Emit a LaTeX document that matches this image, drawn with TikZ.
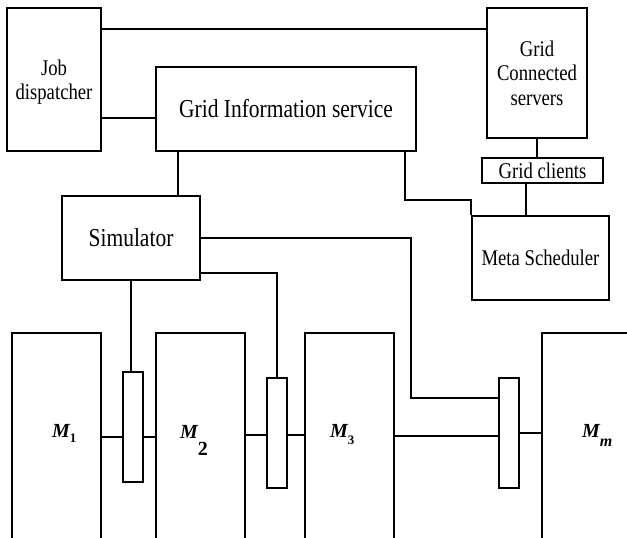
\documentclass[tikz,border=0pt]{standalone}
\usepackage{fontspec}
\setmainfont{Liberation Serif}
\newcommand\vs[1]{\raisebox{-3pt}[\height][\depth]{\scalebox{1}[1.2]{\begin{tabular}{@{}c@{}}#1\end{tabular}}}}
\begin{document}
\begin{tikzpicture}[x=1pt,y=-1pt,
  box/.style={draw, line width=1.7pt, inner sep=0pt, align=center,
    font=\fontsize{18.7}{20.5}\selectfont},
  bigbox/.style={box, font=\fontsize{21.5}{23}\selectfont},
  mach/.style={draw, line width=1.4pt, inner sep=0pt},
  conn/.style={draw, line width=1.5pt, inner sep=0pt, minimum width=20, minimum height=110},
  wire/.style={line width=1.7pt},
  lwire/.style={line width=1.4pt},
  lab/.style={inner sep=0pt, anchor=base west, font=\fontsize{20}{20}\selectfont\bfseries\itshape}]
\useasboundingbox (0,0) rectangle (627,538);
\clip (0,0) rectangle (627,538);
\fill[white] (0,0) rectangle (627,538);
% upper boxes
\node[box, minimum width=94, minimum height=143] (job) at (54,79.5) {\vs{Job\\dispatcher}};
\node[bigbox, minimum width=260, minimum height=84] (gis) at (286,109) {\vs{Grid Information service}};
\node[box, minimum width=100, minimum height=130] (gcs) at (537,73) {\vs{Grid\\Connected\\servers}};
\node[box, minimum width=121, minimum height=25] (gcl) at (542.5,170.5) {\scalebox{1}[1.2]{Grid clients}};
\node[box, minimum width=137, minimum height=84] (meta) at (540.5,258) {\vs{Meta Scheduler}};
\node[bigbox, minimum width=138, minimum height=84] (sim) at (131,238) {\vs{Simulator}};
% machines
\node[mach, minimum width=89, minimum height=227] (m1) at (56.5,446.5) {};
\node[mach, minimum width=89, minimum height=227] (m2) at (200.5,446.5) {};
\node[mach, minimum width=89, minimum height=227] (m3) at (349.5,446.5) {};
\node[mach, minimum width=108, minimum height=227] (mm) at (596,446.5) {};
\node[conn] (k1) at (133,427) {};
\node[conn] (k2) at (277,433) {};
\node[conn] (k3) at (509,433) {};
% labels
\node[lab] (l1) at (52,437) {M\raisebox{-5pt}{\fontsize{13}{13}\selectfont\upshape 1}};
\node[lab] (l2) at (180,438) {M\raisebox{-17pt}{\fontsize{20}{20}\selectfont\upshape 2}};
\node[lab] (l3) at (330,437) {M\raisebox{-7pt}{\fontsize{13}{13}\selectfont\upshape 3}};
\node[lab] (l4) at (582,437) {M\raisebox{-9pt}{\fontsize{16}{16}\selectfont m}};
% helper coordinates
\coordinate (r29) at (0,29);
\coordinate (r118) at (0,118);
\coordinate (c526) at (526,0);
\coordinate (t3) at (411,398);
\coordinate (ra) at (0,437);
\coordinate (rb) at (0,435);
\coordinate (rc) at (0,436);
\coordinate (rd) at (0,433);
% upper wires
\draw[wire] (job.east |- r29) -- (gcs.west |- r29);
\draw[wire] (job.east |- r118) -- (gis.west |- r118);
\draw[wire] ([xshift=-108pt]gis.south) -- ([xshift=-108pt]gis.south |- sim.north);
\draw[wire] ([xshift=119pt]gis.south) -- ++(0,48) -| (meta.north west);
\draw[wire] (gcs.south) -- (gcs.south |- gcl.north);
\draw[wire] (gcl.south -| c526) -- (meta.north -| c526);
% simulator to connectors
\draw[wire] (sim.east) -| (t3) -- (t3 -| k3.west);
\draw[lwire] ([yshift=-35pt]sim.east) -| (k2.north);
\draw[lwire] (sim.south) -- (sim.south |- k1.north);
% machine chain
\draw[lwire] (m1.east |- ra) -- (k1.west |- ra);
\draw[lwire] (k1.east |- ra) -- (m2.west |- ra);
\draw[lwire] (m2.east |- rb) -- (k2.west |- rb);
\draw[lwire] (k2.east |- rb) -- (m3.west |- rb);
\draw[lwire] (m3.east |- rc) -- (k3.west |- rc);
\draw[lwire] (k3.east |- rd) -- (mm.west |- rd);
\end{tikzpicture}
\end{document}
